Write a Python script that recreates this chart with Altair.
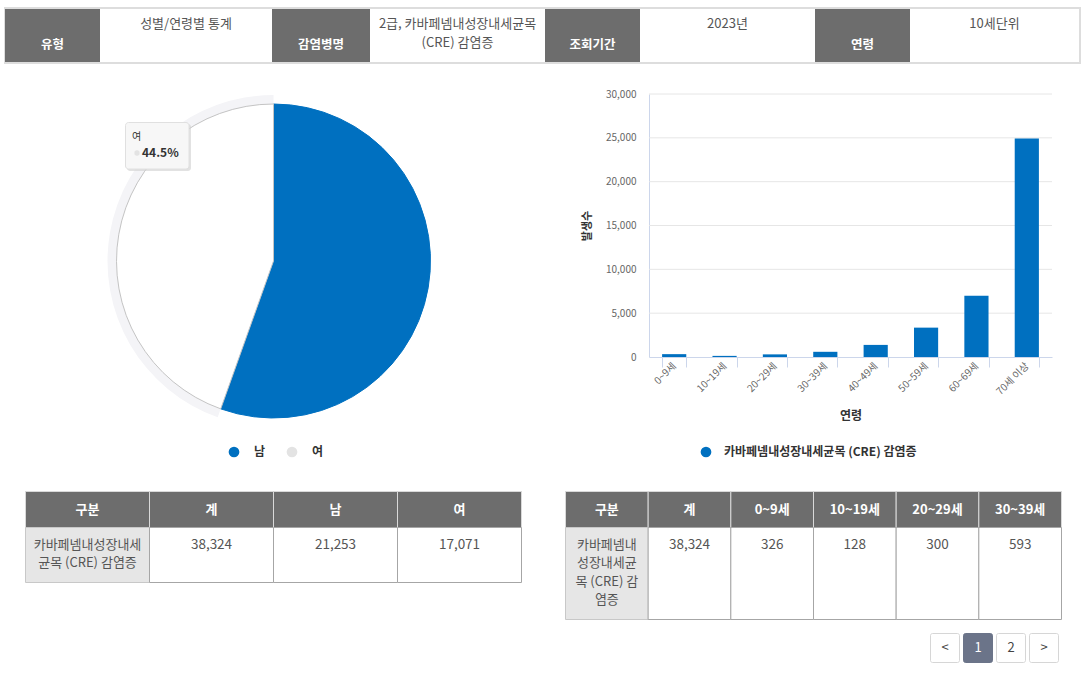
import altair as alt
import pandas as pd

W, H = 1084, 679
FONT = "Noto Sans CJK KR"
BLUE = "#0070c0"
DARK = "#6d6d6d"
TXT = "#555555"

# ---------------- data ----------------
SEXES = ["남", "여"]
SEX_COUNTS = [21253, 17071]
TOTAL = 38324
AGES = ["0~9세", "10~19세", "20~29세", "30~39세", "40~49세", "50~59세", "60~69세", "70세 이상"]
AGE_COUNTS = [326, 128, 300, 593, 1380, 3350, 6990, 24920]
DISEASE = "카바페넴내성장내세균목 (CRE) 감염증"
Y_TICKS = [0, 5000, 10000, 15000, 20000, 25000, 30000]

HEADER_LABELS = ["유형", "감염병명", "조회기간", "연령"]
HEADER_VALUES = [["성별/연령별 통계"], ["2급, 카바페넴내성장내세균목", "(CRE) 감염증"], ["2023년"], ["10세단위"]]

SEX_TABLE_COLS = ["구분", "계", "남", "여"]
AGE_TABLE_COLS = ["구분", "계", "0~9세", "10~19세", "20~29세", "30~39세"]
SEX_NAME_LINES = ["카바페넴내성장내세", "균목 (CRE) 감염증"]
AGE_NAME_LINES = ["카바페넴내", "성장내세균", "목 (CRE) 감", "염증"]
PAGES = ["<", "1", "2", ">"]
CURRENT_PAGE = "1"
HOVER_SEX = "여"

# ---------------- layout helpers ----------------
SX = alt.Scale(domain=[0, W], range=[0, W], nice=False, zero=False)
SY = alt.Scale(domain=[0, H], range=[0, H], nice=False, zero=False)


def rect_layer(df, **kw):
    return alt.Chart(df).mark_rect(**kw).encode(
        x=alt.X("x0:Q", scale=SX, axis=None), x2="x1:Q",
        y=alt.Y("y0:Q", scale=SY, axis=None), y2="y1:Q")


def text_layer(df, **kw):
    kw.setdefault("font", FONT)
    return alt.Chart(df).mark_text(**kw).encode(
        x=alt.X("x:Q", scale=SX, axis=None),
        y=alt.Y("y:Q", scale=SY, axis=None),
        text="t:N")


layers = []

# ---------------- header strip ----------------
HB = [5, 100, 272, 370, 545, 640, 815, 910, 1079]
layers.append(rect_layer(pd.DataFrame({"x0": [4], "x1": [1081], "y0": [7], "y1": [64]}), color="#dddddd"))
dark_idx = [0, 2, 4, 6]
white_idx = [1, 3, 5, 7]
layers.append(rect_layer(pd.DataFrame({"x0": [HB[i] for i in dark_idx], "x1": [HB[i + 1] for i in dark_idx],
                                       "y0": 9, "y1": 62}), color=DARK))
layers.append(rect_layer(pd.DataFrame({"x0": [HB[i] for i in white_idx], "x1": [HB[i + 1] for i in white_idx],
                                       "y0": 9, "y1": 62}), color="white"))
layers.append(text_layer(pd.DataFrame({"x": [(HB[i] + HB[i + 1]) / 2 for i in dark_idx], "y": 45,
                                       "t": HEADER_LABELS}),
                         color="white", fontWeight="bold", fontSize=12.5))
hv_rows = []
for k, lines in enumerate(HEADER_VALUES):
    i = white_idx[k]
    for j, line in enumerate(lines):
        hv_rows.append({"x": (HB[i] + HB[i + 1]) / 2, "y": 24 + j * 19, "t": line})
layers.append(text_layer(pd.DataFrame(hv_rows), color=TXT, fontSize=13))

# ---------------- pie ----------------
PIE_X, PIE_Y, PIE_R = 273.5, 261, 157
pie_df = pd.DataFrame({"sex": SEXES, "count": SEX_COUNTS, "ord": [0, 1]})
hover_test = f"datum.sex == '{HOVER_SEX}'"
halo = alt.Chart(pie_df).mark_arc(radius=PIE_R + 9).encode(
    theta=alt.Theta("count:Q", stack=True), order=alt.Order("ord:Q"),
    x=alt.value(PIE_X), y=alt.value(PIE_Y),
    fill=alt.condition(hover_test, alt.value("#f4f4f7"), alt.value("transparent")))
pie = alt.Chart(pie_df).mark_arc(radius=PIE_R, strokeWidth=1).encode(
    theta=alt.Theta("count:Q", stack=True), order=alt.Order("ord:Q"),
    x=alt.value(PIE_X), y=alt.value(PIE_Y),
    color=alt.condition(hover_test, alt.value("white"),
                        alt.Color("sex:N", scale=alt.Scale(domain=SEXES, range=[BLUE, "#e3e3e3"]),
                                  legend=alt.Legend(title=None, orient="none", legendX=228, legendY=446,
                                                    direction="horizontal", symbolType="circle",
                                                    symbolSize=115, symbolStrokeWidth=0, padding=0,
                                                    labelFont=FONT, labelFontSize=12, labelFontWeight="bold",
                                                    labelColor="#333333", labelOffset=14, columnPadding=20))),
    stroke=alt.condition(hover_test, alt.value("#c4c4c4"), alt.value(BLUE)))
layers += [halo, pie]

# tooltip
pct = f"{SEX_COUNTS[SEXES.index(HOVER_SEX)] / TOTAL * 100:.1f}%"
layers.append(rect_layer(pd.DataFrame({"x0": [127], "x1": [191], "y0": [124], "y1": [171]}),
                         color="#cfcfcf", opacity=0.6, cornerRadius=3))
layers.append(rect_layer(pd.DataFrame({"x0": [125.5], "x1": [189], "y0": [122.5], "y1": [169]}),
                         fill="#f7f7f7", stroke="#e0e0e0", strokeWidth=1, cornerRadius=3))
layers.append(text_layer(pd.DataFrame({"x": [132], "y": [137], "t": [HOVER_SEX]}),
                         color="#333333", fontSize=10, align="left"))
layers.append(alt.Chart(pd.DataFrame({"x": [137], "y": [153]})).mark_circle(size=28, color="#e3e3e3", opacity=1).encode(
    x=alt.X("x:Q", scale=SX, axis=None), y=alt.Y("y:Q", scale=SY, axis=None)))
layers.append(text_layer(pd.DataFrame({"x": [142], "y": [153], "t": [pct]}),
                         color="#333333", fontSize=12, fontWeight="bold", align="left"))

# ---------------- bar chart ----------------
XB = alt.Scale(domain=AGES, range=[649, 1052], paddingInner=0.52, paddingOuter=0.26)
YB = alt.Scale(domain=[0, 30000], range=[357, 94], nice=False, zero=True)
grid = alt.Chart(pd.DataFrame({"v": Y_TICKS[1:]})).mark_rule(color="#e6e6e6", strokeWidth=1).encode(
    y=alt.Y("v:Q", scale=YB, axis=None), x=alt.value(649), x2=alt.value(1052))
bar_df = pd.DataFrame({"age": AGES, "count": AGE_COUNTS, "series": DISEASE})
bars = alt.Chart(bar_df).mark_bar().encode(
    x=alt.X("age:N", sort=AGES, scale=XB,
            axis=alt.Axis(title=None, orient="bottom", offset=357 - H, labelAngle=315,
                          labelAlign="right", labelBaseline="middle", labelFont=FONT, labelFontSize=10,
                          labelColor="#666666", domainColor="#ccd6eb", tickColor="#ccd6eb", tickSize=10,
                          tickBand="extent", labelPadding=-3, labelOverlap=False, grid=False)),
    y=alt.Y("count:Q", scale=YB,
            axis=alt.Axis(title=None, orient="left", offset=-649, values=Y_TICKS, format=",.0f",
                          labelFont=FONT, labelFontSize=10, labelColor="#666666", ticks=False,
                          domainColor="#ccd6eb", labelPadding=13, grid=False, labelOverlap=False)),
    color=alt.Color("series:N", scale=alt.Scale(domain=[DISEASE], range=[BLUE]),
                    legend=alt.Legend(title=None, orient="none", legendX=700, legendY=446,
                                      symbolType="circle", symbolSize=115, symbolStrokeWidth=0, padding=0,
                                      labelFont=FONT, labelFontSize=12, labelFontWeight="bold",
                                      labelColor="#333333", labelOffset=12, labelLimit=400)))
layers += [grid, bars]
layers.append(text_layer(pd.DataFrame({"x": [588], "y": [226], "t": ["발생수"]}),
                         color="#333333", fontSize=11, fontWeight="bold", angle=270))
layers.append(text_layer(pd.DataFrame({"x": [851], "y": [416], "t": ["연령"]}),
                         color="#333333", fontSize=12, fontWeight="bold"))


# ---------------- tables ----------------
def table_layers(x_left, x_right, y_top, y_mid, y_bot, cols, values, name_lines):
    n = len(cols)
    w = (x_right - x_left) / n
    xs = [x_left + i * w for i in range(n + 1)]
    hdr = pd.DataFrame({"x0": xs[:-1], "x1": xs[1:], "y0": y_top, "y1": y_mid})
    name_cell = pd.DataFrame({"x0": [xs[0]], "x1": [xs[1]], "y0": [y_mid], "y1": [y_bot]})
    val_cells = pd.DataFrame({"x0": xs[1:-1], "x1": xs[2:], "y0": y_mid, "y1": y_bot})
    hdr_txt = pd.DataFrame({"x": [(xs[i] + xs[i + 1]) / 2 for i in range(n)], "y": (y_top + y_mid) / 2, "t": cols})
    val_txt = pd.DataFrame({"x": [(xs[i] + xs[i + 1]) / 2 for i in range(1, n)], "y": y_mid + 17,
                            "t": [f"{v:,}" for v in values]})
    name_txt = pd.DataFrame({"x": (xs[0] + xs[1]) / 2, "y": [y_mid + 17 + j * 18.5 for j in range(len(name_lines))],
                             "t": name_lines})
    return [
        rect_layer(hdr, fill=DARK, stroke="#d9d9d9", strokeWidth=1),
        rect_layer(name_cell, fill="#e6e6e6", stroke="#c8c8c8", strokeWidth=1),
        rect_layer(val_cells, fill="white", stroke="#a6a6a6", strokeWidth=1),
        text_layer(hdr_txt, color="white", fontWeight="bold", fontSize=13),
        text_layer(val_txt, color=TXT, fontSize=13.5),
        text_layer(name_txt, color=TXT, fontSize=13),
    ]


layers += table_layers(25.5, 521.5, 491.5, 527.5, 582.5, SEX_TABLE_COLS, [TOTAL] + SEX_COUNTS, SEX_NAME_LINES)
layers += table_layers(565.5, 1061.5, 491.5, 527.5, 619.5, AGE_TABLE_COLS, [TOTAL] + AGE_COUNTS[:4], AGE_NAME_LINES)

# ---------------- pagination ----------------
px0 = [930.5 + i * 33 for i in range(len(PAGES))]
pg = pd.DataFrame({"x0": px0, "x1": [x + 29 for x in px0], "y0": 633.5, "y1": 662.5, "t": PAGES})
pg["x"] = (pg["x0"] + pg["x1"]) / 2
pg["y"] = 648
layers.append(rect_layer(pg[pg.t != CURRENT_PAGE], fill="white", stroke="#d6d6d6", strokeWidth=1, cornerRadius=2))
layers.append(rect_layer(pg[pg.t == CURRENT_PAGE], fill="#6b7489", stroke="#6b7489", strokeWidth=1, cornerRadius=2))
layers.append(text_layer(pg[pg.t != CURRENT_PAGE], color="#444444", fontSize=13))
layers.append(text_layer(pg[pg.t == CURRENT_PAGE], color="white", fontSize=13))

chart = alt.layer(*layers).resolve_scale(
    x="independent", y="independent", color="independent", fill="independent", stroke="independent"
).resolve_legend(color="independent").properties(
    width=W, height=H, padding=0, background="white",
    autosize=alt.AutoSizeParams(type="none"),
).configure_view(stroke=None)

chart.save("out.html", embed_options={"renderer": "svg", "actions": False})
